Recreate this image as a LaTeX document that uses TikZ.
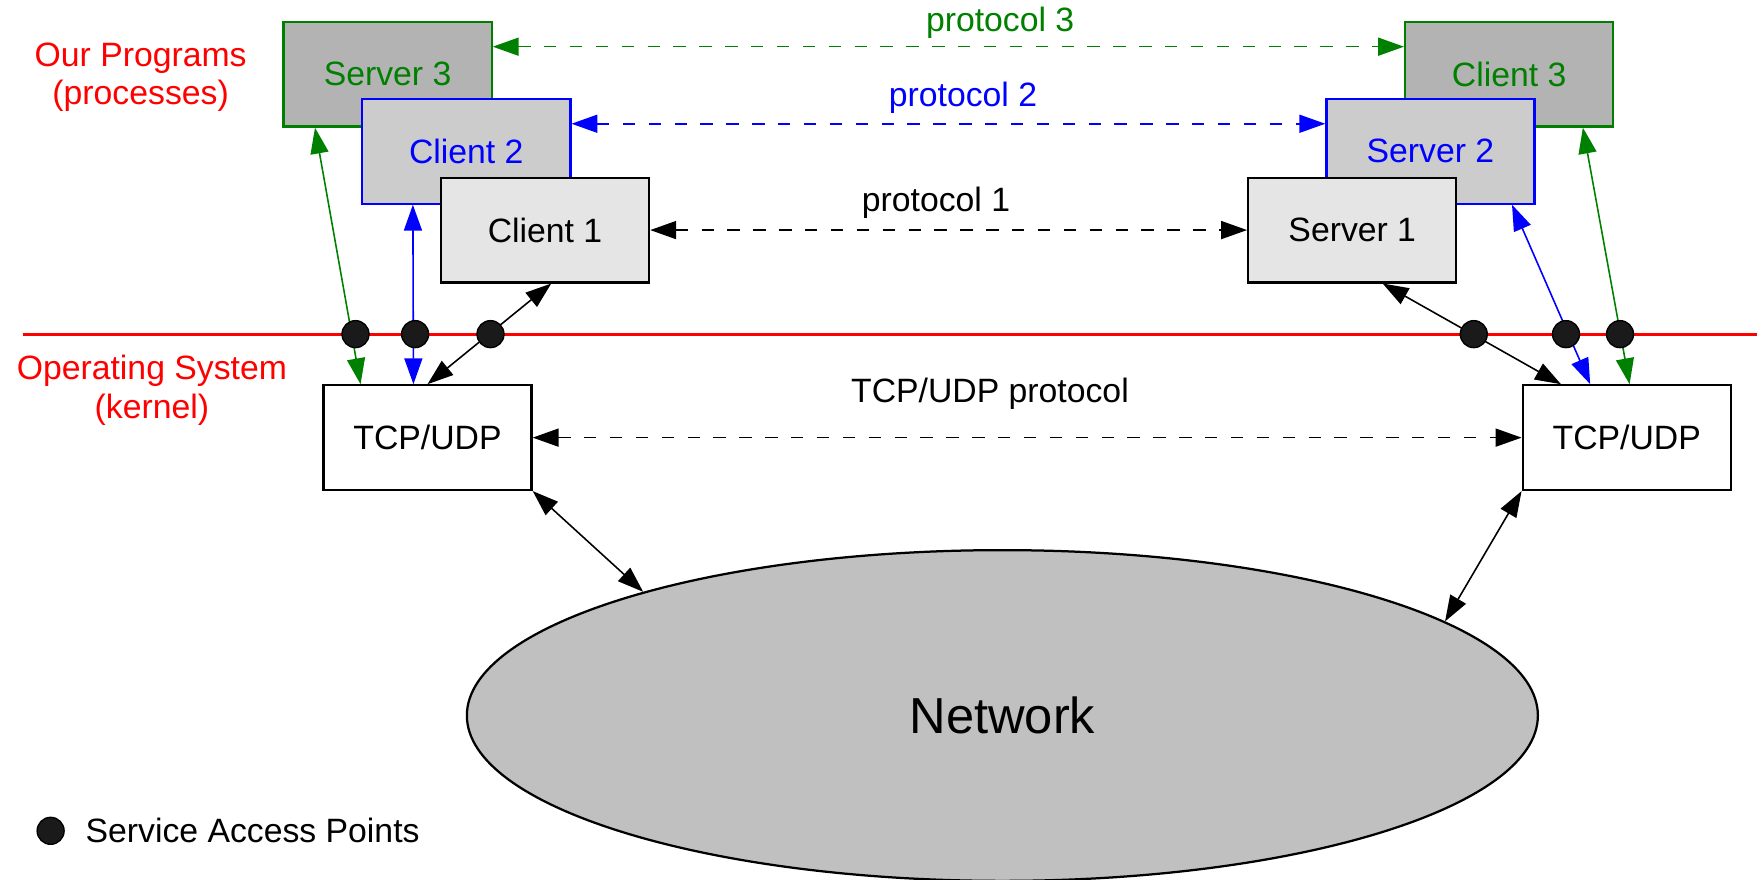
\documentclass[tikz,border=0pt]{standalone}
\usepackage{fontspec}
\setmainfont{Liberation Sans}
\usetikzlibrary{positioning, shapes.geometric, arrows.meta}

\definecolor{osred}{RGB}{255,0,0}
\definecolor{pgreen}{RGB}{0,128,0}
\definecolor{pblue}{RGB}{0,0,255}
\definecolor{darkfill}{RGB}{179,179,179}
\definecolor{midfill}{RGB}{204,204,204}
\definecolor{lightfill}{RGB}{229,229,229}
\definecolor{netfill}{RGB}{192,192,192}
\definecolor{sapfill}{RGB}{26,26,26}

\begin{document}
\begin{tikzpicture}[x=0.5pt, y=-0.5pt, font=\fontsize{15}{17}\selectfont,
  >={Triangle[length=11.5pt, width=8pt]},
  proc/.style={rectangle, draw, line width=1pt, minimum width=92.5pt, minimum height=46.5pt, inner sep=0pt},
  sap/.style={circle, draw, fill=sapfill, minimum size=12pt, inner sep=0pt, line width=0.6pt},
  link/.style={<->, line width=0.7pt},
  proto/.style={<->, dash pattern=on 5.5pt off 6pt, line width=0.7pt}]
\useasboundingbox (0,0) rectangle (1568,782);
\coordinate (osL) at (20,297);
\coordinate (osR) at (1562,297);
\draw[osred, line width=1.4pt] (osL) -- (osR);
\node[proc, draw=pgreen, fill=darkfill, text=pgreen] (S3) at (344.5,66) {Server 3};
\node[proc, draw=pblue, fill=midfill, text=pblue] (C2) at (414.5,134.5) {Client 2};
\node[proc, fill=lightfill] (C1) at (484.5,204.5) {Client 1};
\node[proc, draw=pgreen, fill=darkfill, text=pgreen] (C3) at (1341.5,66) {Client 3};
\node[proc, draw=pblue, fill=midfill, text=pblue] (S2) at (1271.5,134.5) {Server 2};
\node[proc, fill=lightfill] (S1) at (1202,204.5) {Server 1};
\node[proc, fill=white] (tcpL) at (380,389) {TCP/UDP};
\node[proc, fill=white] (tcpR) at (1446,389) {TCP/UDP};
\node[ellipse, draw, fill=netfill, line width=1pt, minimum width=476pt, minimum height=147pt, inner sep=0pt, font=\fontsize{22.5}{27}\selectfont] (net) at (891,636) {Network};
\node[text=osred, align=center] (prog) at (125,68.5) {Our Programs\\(processes)};
\node[text=osred, align=center] (os) at (135,347) {Operating System\\(kernel)};
\node[text=pgreen] (p3) at (889,20) {protocol 3};
\node[text=pblue] (p2) at (856,87) {protocol 2};
\node (p1) at (832,180) {protocol 1};
\node (p0) at (880,350) {TCP/UDP protocol};
\draw[proto, pgreen] ([yshift=-11.5pt]S3.north east) -- ([yshift=-11.5pt]C3.north west);
\draw[proto, pblue] ([yshift=-11.5pt]C2.north east) -- ([yshift=-11.5pt]S2.north west);
\draw[proto] (C1.east) -- (S1.west);
\draw[proto] (tcpL.east) -- (tcpR.west);
\draw[link, pgreen] ([xshift=14.5pt]S3.south west) -- ([xshift=17pt]tcpL.north west);
\draw[link, pblue] ([xshift=23pt]C2.south west) -- ([xshift=40.5pt]tcpL.north west);
\draw[link] ([xshift=2.75pt]C1.south) -- (tcpL.north);
\draw[link] ([xshift=13.5pt]S1.south) -- ([xshift=17.5pt]tcpR.north west);
\draw[link, pblue] ([xshift=83pt]S2.south west) -- ([xshift=30.5pt]tcpR.north west);
\draw[link, pgreen] ([xshift=79.5pt]C3.south west) -- ([xshift=48pt]tcpR.north west);
\draw[link] (tcpL.south east) -- (net.161);
\draw[link] (tcpR.south west) -- (net.12);
\node[sap] (sap1) at (316,297) {};
\node[sap] (sap2) at (369,297) {};
\node[sap] (sap3) at (436,297) {};
\node[sap] (sap4) at (1310,297) {};
\node[sap] (sap5) at (1392,297) {};
\node[sap] (sap6) at (1440,297) {};
\node[sap] (key) at (45,738.5) {};
\node[right=5.75pt of key] (keytxt) {Service Access Points};
\end{tikzpicture}
\end{document}
